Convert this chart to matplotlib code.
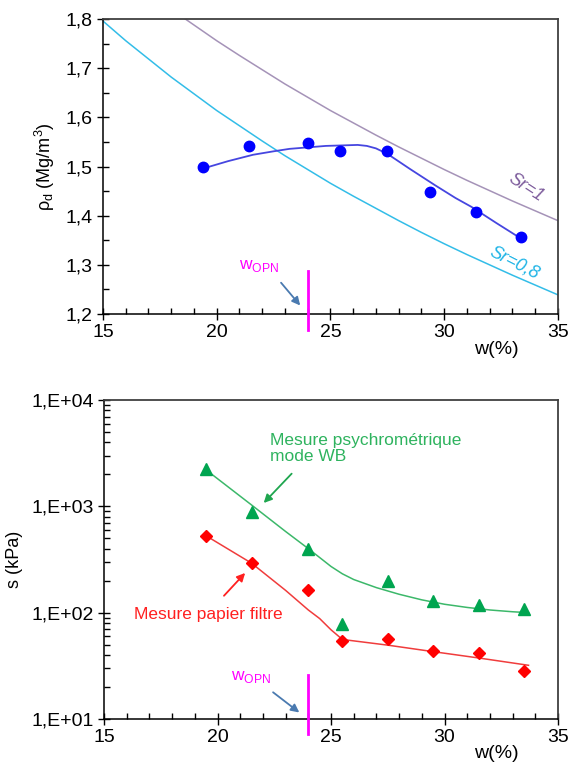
import numpy as np
import matplotlib
matplotlib.use('Agg')
import matplotlib.pyplot as plt
from matplotlib.ticker import FixedLocator, FixedFormatter, MultipleLocator, LogLocator, NullFormatter

plt.rcParams['font.family'] = ['Liberation Sans', 'DejaVu Sans']

# ---- top chart data : dry density vs water content
w_pts = [19.4, 21.4, 24.0, 25.4, 27.5, 29.4, 31.4, 33.4]
rho_pts = [1.500, 1.542, 1.547, 1.531, 1.531, 1.449, 1.407, 1.356]

w_fit = [19.4, 20.5, 21.6, 22.5, 23.2, 24.0, 24.8, 25.5, 26.2, 26.6, 27.0, 27.5, 28.5, 29.6, 30.5, 31.2, 32.3, 33.5]
rho_fit = [1.496, 1.511, 1.524, 1.531, 1.536, 1.539, 1.542, 1.543, 1.544, 1.542, 1.537, 1.526, 1.495, 1.462, 1.436, 1.418, 1.385, 1.350]

w_sr1 = [18.5, 19, 20, 21, 22, 23, 24, 25, 26, 27, 28, 29, 30, 31, 32, 33, 34, 35]
rho_sr1 = [1.804, 1.788, 1.756, 1.726, 1.697, 1.668, 1.641, 1.614, 1.589, 1.564,
           1.540, 1.517, 1.494, 1.472, 1.451, 1.430, 1.410, 1.390]

w_sr08 = [15, 16, 17, 18, 19, 20, 21, 22, 23, 24, 25, 26, 27, 28, 29, 30, 31, 32, 33, 34, 35]
rho_sr08 = [1.796, 1.756, 1.719, 1.682, 1.648, 1.614, 1.583, 1.552, 1.522, 1.494, 1.466,
            1.440, 1.415, 1.390, 1.366, 1.343, 1.321, 1.300, 1.279, 1.259, 1.239]

top_yticks = [1.2, 1.3, 1.4, 1.5, 1.6, 1.7, 1.8]
top_ylabels = ['1,2', '1,3', '1,4', '1,5', '1,6', '1,7', '1,8']
xticks = [15, 20, 25, 30, 35]

# ---- bottom chart data : suction vs water content
w_s = [19.5, 21.5, 24.0, 25.5, 27.5, 29.5, 31.5, 33.5]
s_psy = [2230, 880, 400, 77.6, 199, 130, 117, 109]
s_pap = [528, 292, 162, 54.2, 56.1, 44, 42, 28.3]

w_psy_fit = [19.5, 21.5, 23.0, 24.0, 24.5, 25.0, 25.5, 26.0, 27.0, 28.0, 29.0, 30.0, 31.0, 32.0, 33.0, 33.7]
s_psy_fit = [2200, 1030, 580, 400, 330, 272, 232, 205, 172, 149, 132, 120, 112, 106, 102, 100]

w_pap_fit = [19.5, 21.5, 23.0, 24.0, 24.5, 25.0, 25.5, 27.5, 29.5, 31.5, 33.7]
s_pap_fit = [528, 292, 162, 106, 88, 69, 56, 49.5, 43, 37.5, 32]

bot_yticks = [10, 100, 1000, 10000]
bot_ylabels = ['1,E+01', '1,E+02', '1,E+03', '1,E+04']

w_opn = 24.0

fig = plt.figure(figsize=(5.7, 7.64), dpi=100)
ax1 = fig.add_axes([0.1807, 0.589, 0.798, 0.386])
ax2 = fig.add_axes([0.1825, 0.0589, 0.7965, 0.4175])

fs = 13
tfs = 14
spine_col = '#404040'

# top
ax1.plot(w_sr1, rho_sr1, color='#a593b8', lw=1.1)
ax1.plot(w_sr08, rho_sr08, color='#33bde8', lw=1.1)
ax1.plot(w_fit, rho_fit, color='#4646e0', lw=1.3)
ax1.plot(w_pts, rho_pts, 'o', color='#0000ff', ms=7.5, zorder=5)
ax1.plot([w_opn, w_opn], [1.167, 1.288], color='#ff00ff', lw=2, clip_on=False, zorder=6)
ax1.text(21.0, 1.292, r'w$_{\mathregular{OPN}}$', color='#ff00ff', fontsize=12.5)
ax1.annotate('', xy=(23.75, 1.213), xytext=(22.75, 1.268),
             arrowprops=dict(arrowstyle='-|>', color='#4a7ab0', lw=1.3, mutation_scale=12))
ax1.text(33.6, 1.456, 'Sr=1', color='#7d5c9c', fontsize=13, rotation=-33, ha='center', va='center', style='italic')
ax1.text(33.1, 1.303, 'Sr=0,8', color='#1fb4e6', fontsize=13, rotation=-27, ha='center', va='center', style='italic')
ax1.set_xlim(15, 35)
ax1.set_ylim(1.2, 1.8)
ax1.yaxis.set_major_locator(FixedLocator(top_yticks))
ax1.yaxis.set_major_formatter(FixedFormatter(top_ylabels))
ax1.yaxis.set_minor_locator(MultipleLocator(0.05))
ax1.set_ylabel(r'$\mathregular{\rho_d}$ (Mg/m$^{\mathregular{3}}$)', fontsize=fs, labelpad=6)

# bottom
ax2.set_yscale('log')
ax2.plot(w_psy_fit, s_psy_fit, color='#3cb86a', lw=1.1)
ax2.plot(w_pap_fit, s_pap_fit, color='#f03c3c', lw=1.1)
ax2.plot(w_s, s_psy, '^', color='#00a550', ms=8, zorder=5)
ax2.plot(w_s, s_pap, 'D', color='#ff0000', ms=6, zorder=5)
ax2.plot([w_opn, w_opn], [7.2, 26], color='#ff00ff', lw=2, clip_on=False, zorder=6)
ax2.text(20.6, 23.5, r'w$_{\mathregular{OPN}}$', color='#ff00ff', fontsize=12.5)
ax2.annotate('', xy=(23.7, 11.1), xytext=(22.35, 18.5),
             arrowprops=dict(arrowstyle='-|>', color='#4a7ab0', lw=1.3, mutation_scale=12))
ax2.text(22.3, 3500, 'Mesure psychrométrique\nmode WB', color='#2eb35e', fontsize=12.5,
         ha='left', va='center', linespacing=1.15)
ax2.annotate('', xy=(21.95, 1030), xytext=(23.35, 2120),
             arrowprops=dict(arrowstyle='-|>', color='#1fa64f', lw=1.3, mutation_scale=12))
ax2.text(16.3, 97, 'Mesure papier filtre', color='#ff2020', fontsize=12.5, ha='left', va='center')
ax2.annotate('', xy=(21.3, 247), xytext=(20.2, 138),
             arrowprops=dict(arrowstyle='-|>', color='#ff2020', lw=1.3, mutation_scale=12))
ax2.set_xlim(15, 35)
ax2.set_ylim(10, 10000)
ax2.yaxis.set_major_locator(FixedLocator(bot_yticks))
ax2.yaxis.set_major_formatter(FixedFormatter(bot_ylabels))
ax2.yaxis.set_minor_locator(LogLocator(base=10, subs=np.arange(2, 10)))
ax2.yaxis.set_minor_formatter(NullFormatter())
ax2.set_ylabel('s (kPa)', fontsize=fs, labelpad=6)

for ax, ylab in ((ax1, -0.122), (ax2, -0.107)):
    ax.xaxis.set_major_locator(FixedLocator(xticks))
    ax.xaxis.set_minor_locator(MultipleLocator(1))
    ax.tick_params(which='major', direction='inout', length=8, width=1, labelsize=tfs, color='black')
    ax.tick_params(which='minor', direction='in', length=4, width=1, color='black')
    ax.tick_params(axis='x', which='major', pad=3)
    for side in ('left', 'bottom'):
        ax.spines[side].set_color('black')
        ax.spines[side].set_linewidth(1.1)
    for side in ('top', 'right'):
        ax.spines[side].set_color(spine_col)
        ax.spines[side].set_linewidth(1.3)
    ax.text(0.864, ylab, 'w(%)', transform=ax.transAxes, fontsize=tfs, ha='center', va='center')

fig.savefig('out.png', dpi=100)
